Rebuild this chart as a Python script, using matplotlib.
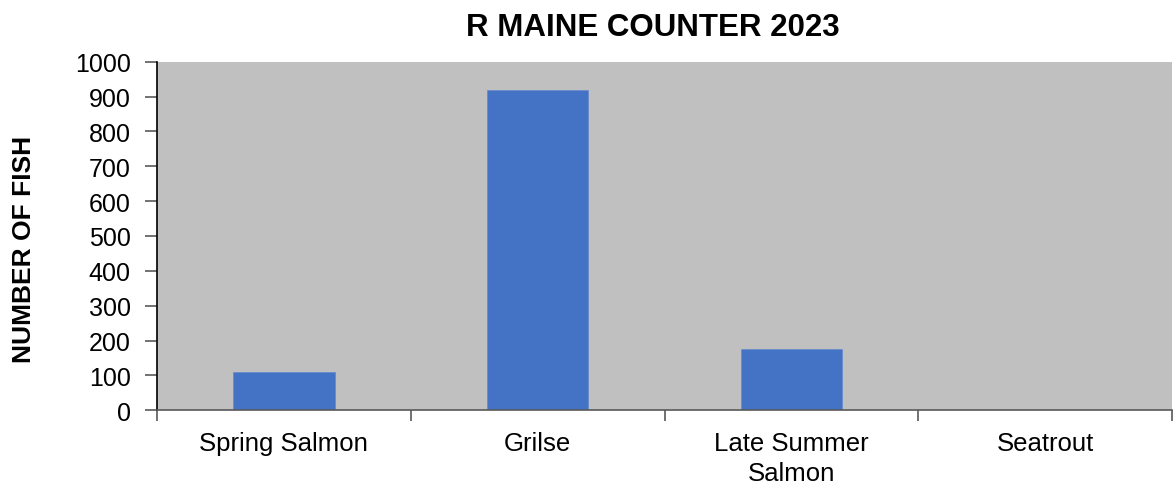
import numpy as np
import matplotlib
matplotlib.use('Agg')
import matplotlib.pyplot as plt
from matplotlib.ticker import FixedLocator

plt.rcParams['font.family'] = ['Liberation Sans', 'DejaVu Sans']

# Data
categories = ['Spring Salmon', 'Grilse', 'Late Summer\nSalmon', 'Seatrout']
counts = [109, 920, 175, 0]
y_ticks = [0, 100, 200, 300, 400, 500, 600, 700, 800, 900, 1000]

BAR = '#4472c4'
PLOT_BG = '#c0c0c0'
AXIS = '#595959'

fig = plt.figure(figsize=(11.73, 4.89), dpi=100)
ax = fig.add_axes([157 / 1173, 1 - 411.3 / 489, (1172 - 157) / 1173, (411.3 - 62.7) / 489])
ax.set_facecolor(PLOT_BG)

x = np.arange(len(categories))
ax.bar(x, counts, width=0.4, color=BAR, edgecolor='#6a8ccc', linewidth=0.6, zorder=2)

ax.set_xlim(-0.5, len(categories) - 0.5)
ax.set_ylim(0, 1000)
ax.set_yticks(y_ticks)
ax.tick_params(axis='y', labelsize=18, length=9, width=1.2, color=AXIS, pad=10)

ax.set_xticks(x)
ax.set_xticklabels(categories, fontsize=18.5, linespacing=1.3)
ax.tick_params(axis='x', which='major', length=0, pad=15)
ax.xaxis.set_minor_locator(FixedLocator(np.arange(-0.5, len(categories), 1.0)))
ax.tick_params(axis='x', which='minor', length=8, width=1.2, color=AXIS)

for side in ['top', 'right']:
    ax.spines[side].set_visible(False)
ax.spines['left'].set_color('#000000')
ax.spines['left'].set_linewidth(1.2)
ax.spines['bottom'].set_color(AXIS)
ax.spines['bottom'].set_linewidth(1.2)

fig.text(24 / 1173, 1 - 249 / 489, 'NUMBER OF FISH', rotation=90, ha='center', va='center',
         fontsize=19, fontweight='bold')
fig.text(653 / 1173, 1 - 27.5 / 489, 'R MAINE COUNTER 2023', ha='center', va='center',
         fontsize=22.5, fontweight='bold')

plt.savefig('out.png', dpi=100)
plt.close()
